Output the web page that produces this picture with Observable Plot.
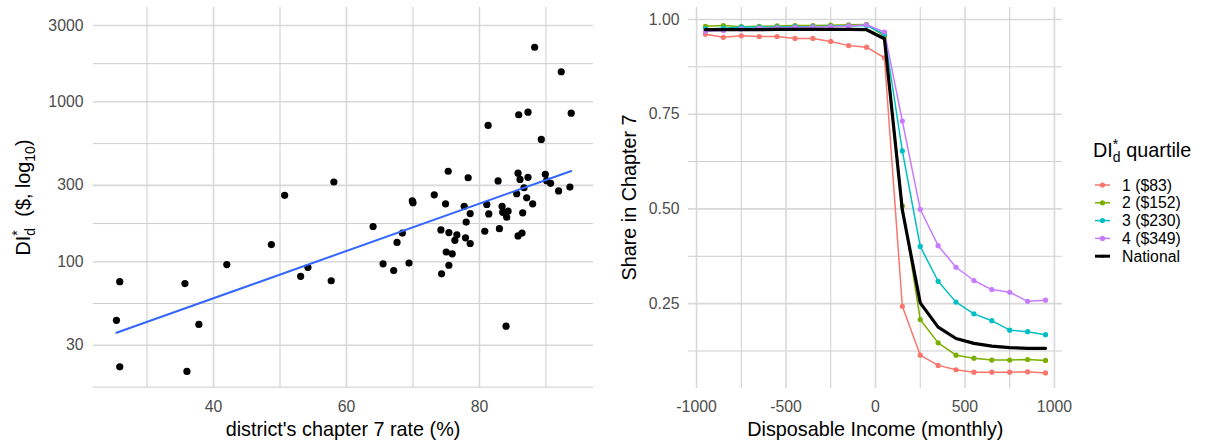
<!DOCTYPE html>
<html><head><meta charset="utf-8">
<script src="https://cdn.jsdelivr.net/npm/d3@7"></script>
<script src="https://cdn.jsdelivr.net/npm/@observablehq/plot@0.6"></script>
<style>
html,body{margin:0;padding:0;background:#fff;}
#wrap{position:relative;width:1207px;height:446px;font-family:"Liberation Sans",Arial,Helvetica,sans-serif;}
#wrap svg{position:absolute;top:0;overflow:visible;}
</style></head><body><div id="wrap"></div>
<script>
const FONT = '"Liberation Sans", Arial, Helvetica, sans-serif';

// ---------- Left panel data: district chapter 7 rate vs DI*_d ----------
const chapter7Rate = [25.9,25.4,25.9,35.7,37.8,36.0,42.0,48.7,50.7,53.1,54.2,57.7,58.1,64.0,65.5,67.1,67.6,68.4,69.4,69.9,70.0,73.2,74.2,74.3,74.9,75.0,75.3,75.4,75.4,75.9,76.3,76.6,77.7,77.9,78.0,78.3,78.6,78.6,80.8,81.1,81.3,81.4,82.8,83.0,83.4,83.5,83.9,84.0,84.1,84.3,85.6,85.8,85.8,85.9,86.1,86.4,86.5,86.7,87.1,87.3,87.3,88.0,88.3,89.3,89.9,90.1,90.7,91.9,92.3,93.6,93.8];
const diStar = [75,43,22,73,40.5,20.6,96,128,260,81,92,76,315,166,97,88,132,151,98,240,234,262,158,84,230,115,368,152,95,112,136,147,222,141,177,335,200,130,155,228,712,199,320,161,222,204,200,39.5,190,207,266,358,145,830,327,151,202,290,251,861,337,230,2195,582,352,321,309,277,1542,293,849];
const leftYTicks = [30,100,300,1000,3000];
const leftYMinor = [16.43,54.77,173.2,547.7,1732];
const leftXTicks = [40,60,80];
const leftXMinor = [30,50,70,90];
const leftXTitle = "district's chapter 7 rate (%)";

// ---------- Right panel data: share in chapter 7 by disposable income ----------
const income = [-950,-850,-750,-650,-550,-450,-350,-250,-150,-50,50,150,250,350,450,550,650,750,850,950];
const q1 = [0.961,0.953,0.957,0.955,0.955,0.950,0.950,0.942,0.931,0.927,0.899,0.243,0.114,0.087,0.0755,0.069,0.069,0.069,0.070,0.067];
const q2 = [0.982,0.984,0.981,0.982,0.983,0.984,0.984,0.985,0.986,0.987,0.956,0.508,0.208,0.1465,0.114,0.106,0.101,0.101,0.1026,0.100];
const q3 = [0.975,0.977,0.980,0.980,0.980,0.981,0.981,0.982,0.983,0.984,0.961,0.653,0.401,0.309,0.254,0.223,0.205,0.180,0.176,0.168];
const q4 = [0.969,0.971,0.975,0.977,0.978,0.979,0.980,0.981,0.983,0.986,0.967,0.732,0.499,0.403,0.346,0.311,0.287,0.280,0.256,0.259];
const national = [0.973,0.973,0.973,0.973,0.974,0.974,0.974,0.974,0.974,0.973,0.949,0.497,0.252,0.188,0.158,0.145,0.138,0.134,0.132,0.132];
const quartileLabels = ["1 ($83)","2 ($152)","3 ($230)","4 ($349)"];
const quartileColors = ["#F8766D","#7CAE00","#00BFC4","#C77CFF"];
const nationalLabel = "National";
const rightYTicks = [0.25,0.5,0.75,1.0];
const rightYMinor = [0.125,0.375,0.625,0.875];
const rightXTicks = [-1000,-500,0,500,1000];
const rightXMinor = [-750,-250,250,750];
const rightXTitle = "Disposable Income (monthly)";
const rightYTitle = "Share in Chapter 7";

const wrap = d3.select("#wrap");
const gridMajor = {stroke:"#d8d8d8", strokeWidth:1.6, strokeOpacity:1};
const gridMinor = {stroke:"#cdcdcd", strokeWidth:1, strokeOpacity:1};
const tickText = {tickSize:0, fontSize:15.8, color:"#4d4d4d", label:null};

// ---- left ----
const scatter = chapter7Rate.map((x,i)=>({x, y: diStar[i]}));
const ly = diStar.map(Math.log10);
const mx = d3.mean(chapter7Rate), my = d3.mean(ly);
const slope = d3.sum(chapter7Rate.map((x,i)=>(x-mx)*(ly[i]-my))) / d3.sum(chapter7Rate.map(x=>(x-mx)**2));
const icpt = my - slope*mx;
const fit = d3.extent(chapter7Rate).map(x=>({x, y: Math.pow(10, icpt + slope*x)}));

const left = Plot.plot({
  width:600, height:446, marginLeft:93, marginRight:7, marginTop:7, marginBottom:58,
  style:{fontFamily:FONT, fontSize:"15.8px", background:"transparent", overflow:"visible"},
  x:{domain:[21.95,97.15]},
  y:{type:"log", domain:[16.1,3890]},
  marks:[
    Plot.gridY(leftYMinor, gridMinor), Plot.gridY(leftYTicks, gridMajor),
    Plot.gridX(leftXMinor, gridMinor), Plot.gridX(leftXTicks, gridMajor),
    Plot.axisX(leftXTicks, {...tickText, tickPadding:12, tickFormat:d=>String(d)}),
    Plot.axisY(leftYTicks, {...tickText, tickPadding:10, tickFormat:d=>String(d)}),
    Plot.dot(scatter, {x:"x", y:"y", r:3.6, fill:"black"}),
    Plot.line(fit, {x:"x", y:"y", stroke:"#3366FF", strokeWidth:2})
  ]
});
left.style.left = "0px";
wrap.node().appendChild(left);
const ls = d3.select(left);
ls.append("text").attr("x",343).attr("y",436).attr("text-anchor","middle")
  .attr("font-size",19.8).attr("fill","black").attr("font-family",FONT).text(leftXTitle);
{
  const t = ls.append("text").attr("transform","translate(29.5,197.5) rotate(-90)")
    .attr("text-anchor","middle").attr("font-size",19.8).attr("fill","black").attr("font-family",FONT);
  t.append("tspan").text("DI");
  t.append("tspan").attr("font-size",14).attr("dy",5).text("d");
  t.append("tspan").attr("font-size",14).attr("dx",-7.8).attr("dy",-13).text("*");
  t.append("tspan").attr("dx",2.6).attr("dy",8).text("\u00a0 ($, log");
  t.append("tspan").attr("font-size",14).attr("dy",5).text("10");
  t.append("tspan").attr("dy",-5).text(")");
}

// ---- right ----
const rows = [];
[q1,q2,q3,q4].forEach((s,k)=> s.forEach((v,i)=> rows.push({x:income[i], y:v, series:quartileLabels[k]})));
const nat = national.map((v,i)=>({x:income[i], y:v}));

const right = Plot.plot({
  width:475, height:446, marginLeft:88, marginRight:13, marginTop:7, marginBottom:58,
  style:{fontFamily:FONT, fontSize:"15.8px", background:"transparent", overflow:"visible"},
  x:{domain:[-1045,1045]},
  y:{domain:[0.026,1.0316]},
  color:{domain:quartileLabels, range:quartileColors},
  marks:[
    Plot.gridY(rightYMinor, gridMinor), Plot.gridY(rightYTicks, gridMajor),
    Plot.gridX(rightXMinor, gridMinor), Plot.gridX(rightXTicks, gridMajor),
    Plot.axisX(rightXTicks, {...tickText, tickPadding:12, tickFormat:d=>String(d)}),
    Plot.axisY(rightYTicks, {...tickText, tickPadding:9, tickFormat:d3.format(".2f")}),
    Plot.line(rows, {x:"x", y:"y", z:"series", stroke:"series", strokeWidth:1.5}),
    Plot.dot(rows, {x:"x", y:"y", fill:"series", r:2.6}),
    Plot.line(nat, {x:"x", y:"y", stroke:"black", strokeWidth:3.2})
  ]
});
right.style.left = "600px";
wrap.node().appendChild(right);
const rs = d3.select(right);
rs.append("text").attr("x",275.3).attr("y",436).attr("text-anchor","middle")
  .attr("font-size",19.8).attr("fill","black").attr("font-family",FONT).text(rightXTitle);
rs.append("text").attr("transform","translate(36,197.5) rotate(-90)").attr("text-anchor","middle")
  .attr("font-size",19.8).attr("fill","black").attr("font-family",FONT).text(rightYTitle);

// ---- legend ----
const leg = wrap.append("svg").attr("width",127).attr("height",446).style("left","1080px")
  .attr("font-family",FONT);
{
  const t = leg.append("text").attr("x",13).attr("y",157).attr("font-size",19.8).attr("fill","black");
  t.append("tspan").text("DI");
  t.append("tspan").attr("font-size",14).attr("dy",5).text("d");
  t.append("tspan").attr("font-size",14).attr("dx",-7.8).attr("dy",-13).text("*");
  t.append("tspan").attr("dx",2.6).attr("dy",8).text(" quartile");
}
const legItems = quartileLabels.map((l,i)=>({label:l, color:quartileColors[i], w:1.5, dot:true}))
  .concat([{label:nationalLabel, color:"black", w:3, dot:false}]);
legItems.forEach((it,i)=>{
  const cy = 185 + i*17.8;
  leg.append("line").attr("x1",15).attr("x2",30).attr("y1",cy).attr("y2",cy)
    .attr("stroke",it.color).attr("stroke-width",it.w);
  leg.append("circle").attr("cx",22.5).attr("cy",cy).attr("r",it.dot?2.6:1.5).attr("fill",it.color);
  leg.append("text").attr("x",42).attr("y",cy+5.5).attr("font-size",15.8).attr("fill","black").text(it.label);
});
</script></body></html>
